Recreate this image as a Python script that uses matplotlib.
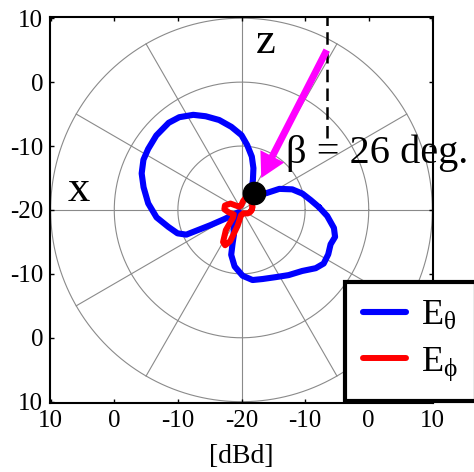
import numpy as np
import matplotlib.pyplot as plt
from matplotlib.patches import FancyArrow

plt.rcParams['font.family'] = ['Liberation Serif', 'DejaVu Serif']
plt.rcParams['mathtext.fontset'] = 'custom'
plt.rcParams['mathtext.rm'] = 'Liberation Serif'
plt.rcParams['mathtext.it'] = 'Liberation Serif:italic'

# donnees (angle en degres, niveau en dBd)
ang_theta = [2, 8, 15, 22, 29, 34, 45, 55, 65, 69, 74, 79, 85, 90, 97, 104,
             111, 117, 124, 130, 139, 147, 153, 160, 167, 176, 185, 193, 200,
             204, 206, 208, 212, 220, 232, 244, 251, 253, 255, 257, 263, 271,
             279, 287, 297, 306, 315, 322, 327, 333, 339, 344, 349, 356]
db_theta = [-7.8, -9.0, -10.1, -11.4, -13.2, -15.3, -16.4, -16.5, -16.2, -15.0,
            -13.2, -11.5, -9.8, -8.3, -6.9, -5.5, -4.3, -3.3, -2.5, -2.2,
            -2.25, -2.5, -2.7, -3.3, -4.2, -5.3, -6.6, -8.2, -9.3, -10.5,
            -14.6, -17.0, -19.0, -19.5, -18.7, -17.3, -16.2, -15.9, -14.6,
            -12.8, -11.1, -9.7, -8.9, -8.7, -8.2, -7.4, -6.5, -5.2, -4.6,
            -4.7, -5.0, -4.7, -5.2, -6.5]

ang_phi = [0, 15, 35, 55, 68, 80, 95, 125, 150, 165, 178, 192, 210, 222, 232,
           240, 245, 250, 256, 266, 300, 330, 345]
db_phi = [-18.4, -18.2, -18.1, -17.4, -17.6, -18.6, -19.3, -19.4, -18.0, -17.3,
          -17.3, -18.0, -18.6, -18.2, -16.0, -14.2, -13.9, -14.8, -17.4, -19.2,
          -19.4, -18.9, -18.6]

r_min = -20          # niveau au centre
grid_levels = [-10, 0, 10]
tick_pos = [-30, -20, -10, 0, 10, 20, 30]
tick_lab = ['10', '0', '-10', '-20', '-10', '0', '10']

beta_deg = 26
dot_xy = (2.0, 2.7)
arrow_tail = (13.4, 25.0)
arrow_tip = (3.1, 5.0)
dash_bottom = 11.2


def to_xy(ang, db):
    # courbe fermee
    ang = list(ang) + [ang[0] + 360]
    db = list(db) + [db[0]]
    r = np.clip(np.array(db) - r_min, 0, None)
    a = np.deg2rad(ang)
    return r * np.cos(a), r * np.sin(a)


fig = plt.figure(figsize=(4.74, 4.72), dpi=100)
ax = fig.add_axes([0.1055, 0.1462, 0.808, 0.818])

# grille polaire
t = np.linspace(0, 2 * np.pi, 400)
for lev in grid_levels:
    R = lev - r_min
    ax.plot(R * np.cos(t), R * np.sin(t), color='#8a8a8a', lw=0.8, zorder=1)
Rmax = grid_levels[-1] - r_min
for a in range(0, 180, 30):
    c, s = np.cos(np.deg2rad(a)), np.sin(np.deg2rad(a))
    ax.plot([-Rmax * c, Rmax * c], [-Rmax * s, Rmax * s], color='#8a8a8a',
            lw=0.8, zorder=1)

xt, yt = to_xy(ang_theta, db_theta)
xp, yp = to_xy(ang_phi, db_phi)
ax.plot(xt, yt, color='#0000ff', lw=4.4, label=r'E$_\mathrm{θ}$', zorder=3,
        solid_joinstyle='round', solid_capstyle='round')
ax.plot(xp, yp, color='#ff0000', lw=4.3, label=r'E$_\mathrm{ϕ}$', zorder=4,
        solid_joinstyle='round', solid_capstyle='round')

ax.plot(*dot_xy, 'o', color='k', ms=16, zorder=5)

# fleche et ligne pointillee
ax.plot([arrow_tail[0], arrow_tail[0]], [dash_bottom, 31], color='k', lw=1.8,
        dashes=(5, 2.5), zorder=4)
ax.add_patch(FancyArrow(arrow_tail[0], arrow_tail[1],
                        arrow_tip[0] - arrow_tail[0], arrow_tip[1] - arrow_tail[1],
                        width=1.1, head_width=4.2, head_length=3.8,
                        length_includes_head=True, color='#ff00ff', lw=0,
                        zorder=6))

ax.text(3.8, 26.2, 'z', fontsize=32, ha='center', va='center')
ax.text(-25.6, 3.1, 'x', fontsize=32, ha='center', va='center')
ax.text(7.0, 7.3, f'β = {beta_deg} deg.', fontsize=29, ha='left',
        va='baseline', zorder=7)

ax.set_xlim(-30.1, 30.1)
ax.set_ylim(-30.2, 30.2)
ax.set_xticks(tick_pos)
ax.set_xticklabels(tick_lab)
ax.set_yticks(tick_pos)
ax.set_yticklabels(tick_lab)
ax.tick_params(direction='in', length=3, width=1, labelsize=18, top=True,
               right=True, pad=5)
for sp in ax.spines.values():
    sp.set_linewidth(1.5)
ax.set_xlabel('[dBd]', fontsize=20, labelpad=9)

leg = ax.legend(loc='lower left', bbox_to_anchor=(0.728, 0.15),
                bbox_transform=fig.transFigure, fontsize=26, fancybox=False,
                framealpha=1, edgecolor='k', handlelength=1.2,
                handletextpad=0.4, labelspacing=0.35, borderpad=0.5,
                borderaxespad=0)
leg.get_frame().set_linewidth(3)

fig.savefig('out.png', dpi=100)
